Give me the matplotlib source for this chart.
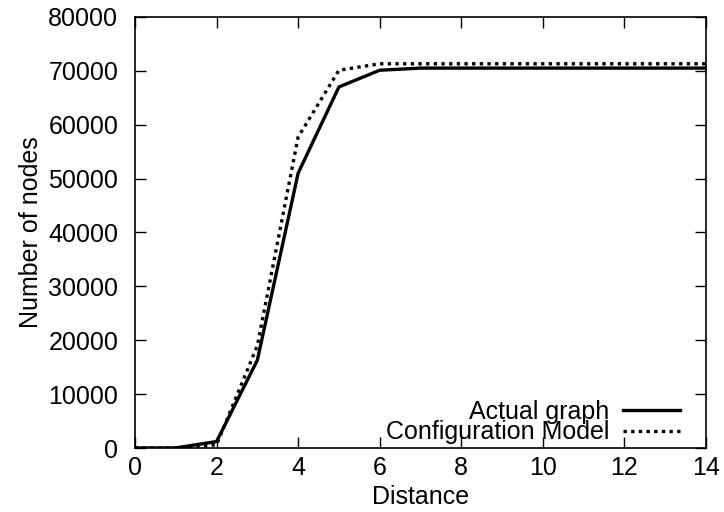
import matplotlib
matplotlib.use("Agg")
import matplotlib.pyplot as plt

distance = [0, 1, 2, 3, 4, 5, 6, 7, 8, 9, 10, 11, 12, 13, 14]
actual_graph = [0, 20, 1200, 16300, 51000, 67000, 70100, 70500, 70500, 70500,
                70500, 70500, 70500, 70500, 70500]
config_model = [0, 10, 600, 19000, 57700, 70100, 71300, 71300, 71300, 71300,
                71300, 71300, 71300, 71300, 71300]

plt.rcParams['font.family'] = ['Liberation Sans', 'DejaVu Sans']

fig = plt.figure(figsize=(7.24, 5.12), dpi=100)
ax = fig.add_axes([0.1865, 0.125, 0.7885, 0.842])

ax.plot(distance, actual_graph, color='black', linewidth=2.4, linestyle='-',
        label='Actual graph')
ax.plot(distance, config_model, color='black', linewidth=2.4, linestyle=(0, (1, 1.3)),
        label='Configuration Model')

ax.set_xlim(0, 14)
ax.set_ylim(0, 80000)
ax.set_xticks(range(0, 15, 2))
ax.set_yticks(range(0, 80001, 10000))
ax.tick_params(direction='in', top=True, right=True, length=8, width=1,
               labelsize=18)
ax.tick_params(axis='x', pad=6)
ax.tick_params(axis='y', pad=12)
for s in ax.spines.values():
    s.set_linewidth(1.2)

ax.set_xlabel('Distance', fontsize=18, labelpad=3)
ax.set_ylabel('Number of nodes', fontsize=18, labelpad=4)

leg = ax.legend(loc='lower right', bbox_to_anchor=(0.962, 0.0),
                frameon=False, markerfirst=False,
                fontsize=18, handlelength=2.3, labelspacing=-0.15,
                borderaxespad=0.05, handletextpad=0.55, borderpad=0.1)
for t in leg.get_texts():
    t.set_ha('right')

fig.savefig('out.png', dpi=100)
